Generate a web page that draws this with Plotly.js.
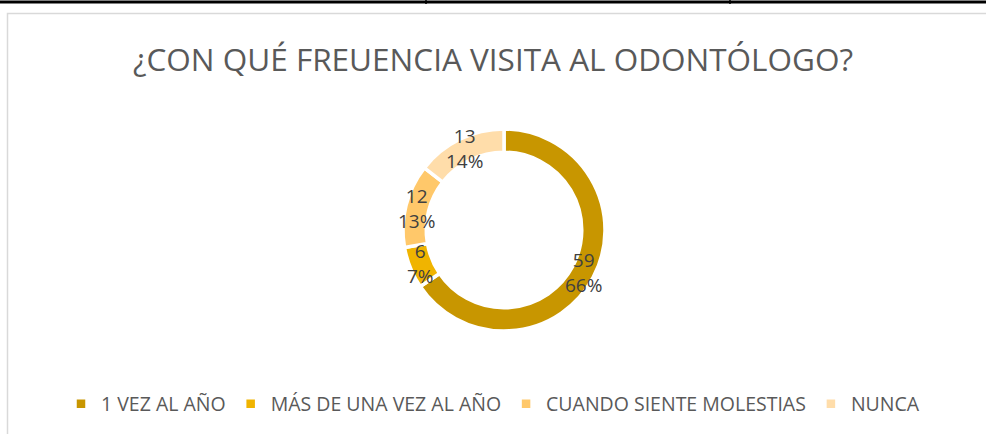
<!DOCTYPE html>
<html>
<head>
<meta charset="utf-8">
<script src="https://cdn.plot.ly/plotly-3.0.1.min.js"></script>
<style>html,body{margin:0;padding:0;background:#fff;}#chart{width:986px;height:434px;}</style>
</head>
<body>
<div id="chart"></div>
<script>
const categories = ["1 VEZ AL AÑO", "MÁS DE UNA VEZ AL AÑO", "CUANDO SIENTE MOLESTIAS", "NUNCA"];
const counts = [59, 6, 12, 13];
const percents = ["66%", "7%", "13%", "14%"];
const colors = ["#C89600", "#F0B400", "#FFC86A", "#FFDDAA"];

const W = 986, H = 434;
const px = x => x / W;
const py = y => 1 - y / H;

// donut geometry (pixels)
const cx = 504, cy = 230, R = 101, hole = 0.77;

const trace = {
  type: "pie",
  labels: categories,
  values: counts,
  textinfo: "none",
  hoverinfo: "label+value+percent",
  hole: hole,
  sort: false,
  direction: "clockwise",
  rotation: 0,
  marker: { colors: colors, line: { color: "#FFFFFF", width: 3.5 } },
  domain: { x: [px(cx - R), px(cx + R)], y: [py(cy + R), py(cy - R)] }
};

// data labels placed at mid-angle of each slice on the ring midline
const total = counts.reduce((a, b) => a + b, 0);
const rMid = R * (1 + hole) / 2 + 1;
let cum = 0;
const annotations = counts.map((c, i) => {
  const mid = (cum + c / 2) / total * 2 * Math.PI;
  cum += c;
  const x = cx + rMid * Math.sin(mid);
  const y = cy - rMid * Math.cos(mid);
  return {
    xref: "paper", yref: "paper",
    x: px(x), y: py(y),
    xanchor: "center", yanchor: "middle",
    text: c + "<br>" + percents[i],
    showarrow: false,
    font: { family: "Open Sans, sans-serif", size: 19, color: "#404040" }
  };
});

const layout = {
  width: W, height: H,
  margin: { l: 0, r: 0, t: 0, b: 0 },
  paper_bgcolor: "#FFFFFF",
  title: {
    text: "¿CON QUÉ FREUENCIA VISITA AL ODONTÓLOGO?",
    font: { family: "Open Sans, sans-serif", size: 31.5, color: "#595959" },
    x: 0.5, xanchor: "center", xref: "paper",
    y: py(60), yanchor: "middle", yref: "paper"
  },
  showlegend: true,
  legend: {
    orientation: "h",
    x: 0.5, xanchor: "center",
    y: py(404), yanchor: "middle",
    font: { family: "Open Sans, sans-serif", size: 19.5, color: "#595959" },
    itemwidth: 30,
    traceorder: "normal"
  },
  annotations: annotations,
  shapes: [
    { type: "line", xref: "paper", yref: "paper", x0: 0, x1: 1, y0: py(2), y1: py(2), line: { color: "#000000", width: 3 } },
    { type: "line", xref: "paper", yref: "paper", x0: px(426), x1: px(426), y0: py(0), y1: py(4), line: { color: "#000000", width: 1.5 } },
    { type: "line", xref: "paper", yref: "paper", x0: px(730), x1: px(730), y0: py(0), y1: py(4), line: { color: "#000000", width: 1.5 } },
    { type: "rect", xref: "paper", yref: "paper", x0: px(7.5), x1: 1.05, y0: -0.05, y1: py(13.5), line: { color: "#D9D9D9", width: 1.5 }, fillcolor: "rgba(0,0,0,0)" }
  ]
};

Plotly.newPlot("chart", [trace], layout, { displayModeBar: false, staticPlot: true });
</script>
</body>
</html>
